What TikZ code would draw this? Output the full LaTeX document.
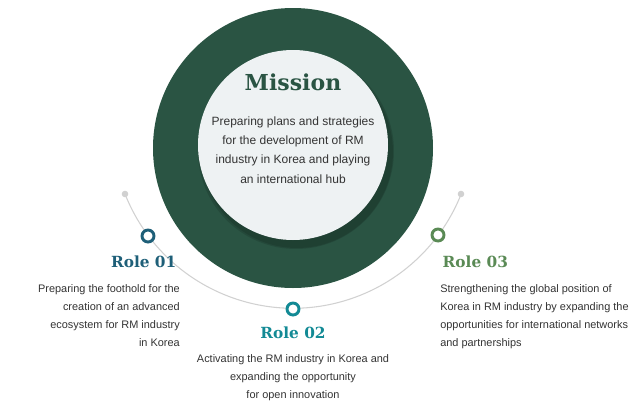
\documentclass[tikz,border=0pt]{standalone}
\usepackage{fontspec}
\setmainfont{Liberation Sans}
\newfontfamily\slabfont{DejaVu Serif}
\usetikzlibrary{positioning,shadows}
\definecolor{ringgreen}{HTML}{2A5443}
\definecolor{innergray}{HTML}{EEF2F3}
\definecolor{roleone}{HTML}{1E5F78}
\definecolor{roletwo}{HTML}{138A95}
\definecolor{rolethree}{HTML}{5A8A55}
\definecolor{bodytext}{HTML}{333333}
\tikzset{
  role/.style={font=\slabfont\bfseries\fontsize{11.5}{14}\selectfont},
  body/.style={font=\fontsize{8.2}{13.5}\selectfont, text=bodytext, inner sep=0pt},
  marker/.style={circle, draw=#1, line width=2.2pt, fill=white, minimum size=9pt, inner sep=0pt}
}
\begin{document}
\begin{tikzpicture}[x=0.75pt, y=-0.75pt]
                \useasboundingbox (0,0) rectangle (640,404);
                % Orbit
                \draw[black!18, line width=0.8pt] (125,194) arc[start angle=158.4, end angle=21.6, radius=180.8];
                \fill[black!18] (125,194) circle (3.3);
                \fill[black!18] (461,194) circle (3.3);
                
                % Mission circle
                \fill[ringgreen] (293,148) circle (140);
                \fill[black, opacity=0.12] (296,151) circle (98);
                \fill[black, opacity=0.12] (297,152) circle (96);
                \fill[innergray] (293,145) circle (95);
                \node[font=\slabfont\bfseries\fontsize{16.5}{20}\selectfont, text=ringgreen] (mission) at (293,82) {Mission};
                \node[body, align=center, font=\fontsize{9}{14.5}\selectfont] (missiontext) at (293,150)
                    {Preparing plans and strategies\\for the development of RM\\industry in Korea and playing\\an international hub};
                
                % Roles
                \node[marker=roleone] (m1) at (148,236) {};
                \node[marker=roletwo] (m2) at (293,309) {};
                \node[marker=rolethree] (m3) at (438,235) {};
                
                \node[role, text=roleone, anchor=east] (r1) at (181,262) {Role 01};
                \node[body, align=right, anchor=north east] (t1) at (180,284)
                    {Preparing the foothold for the\\creation of an advanced\\ecosystem for RM industry\\in Korea};
                
                \node[role, text=roletwo] (r2) at (293,333) {Role 02};
                \node[body, align=center, anchor=north] (t2) at (293,354)
                    {Activating the RM industry in Korea and\\expanding the opportunity\\for open innovation};
                
                \node[role, text=rolethree, anchor=west] (r3) at (438,262) {Role 03};
                \node[body, align=left, anchor=north west] (t3) at (440,284)
                    {Strengthening the global position of\\Korea in RM industry by expanding the\\opportunities for international networks\\and partnerships};
            \end{tikzpicture}
\end{document}
